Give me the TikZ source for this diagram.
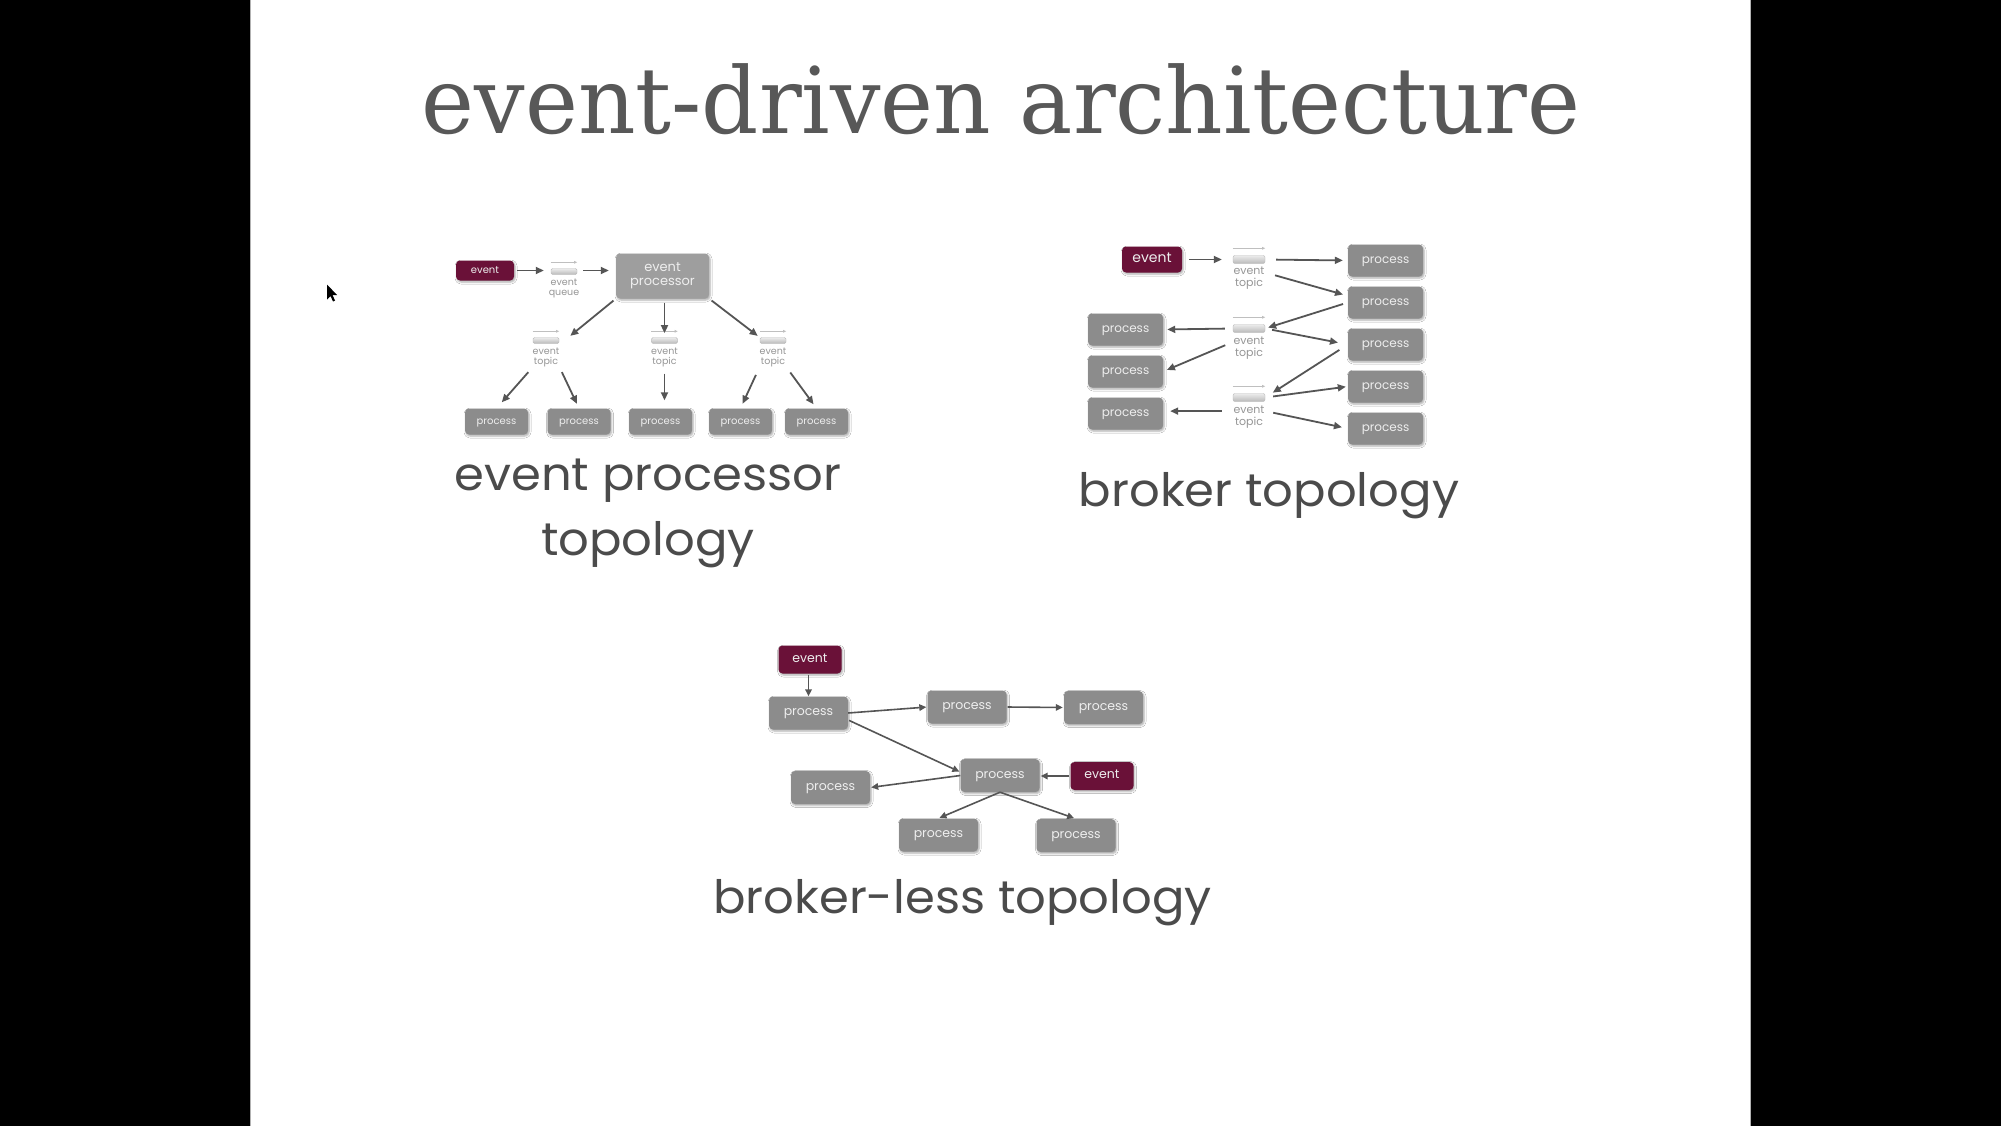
\documentclass[tikz,border=0pt]{standalone}
\usepackage{fontspec}
\setmainfont{Poppins}
\newfontfamily\titlefont{DejaVu Serif}
\usetikzlibrary{arrows.meta,fit,shadows.blur}

\definecolor{evred}{RGB}{106,17,56}
\definecolor{procgray}{RGB}{140,140,140}
\definecolor{epgray}{RGB}{158,158,158}
\definecolor{boxtext}{RGB}{238,238,238}
\definecolor{arrowgray}{RGB}{85,85,85}
\definecolor{inkgray}{RGB}{75,75,75}
\definecolor{titlegray}{RGB}{88,88,88}
\definecolor{captiongray}{RGB}{150,150,150}

\begin{document}
\begin{tikzpicture}[x=1pt,y=-1pt,
  box/.style={rounded corners=4pt, inner sep=0pt, text=boxtext, align=center,
    blur shadow={shadow xshift=1pt, shadow yshift=-1.5pt, shadow blur steps=4,
      shadow blur radius=2pt, shadow opacity=35}},
  % one-line box labels: centre the lowercase body in the box
  oneline/.style={text height=1ex, text depth=0pt},
  % event processor topology
  procA/.style={box, oneline, fill=procgray, minimum width=63pt, minimum height=26pt, font=\fontsize{10}{12}\selectfont},
  evA/.style={box, oneline, fill=evred, minimum width=58pt, minimum height=20pt, font=\fontsize{10}{12}\selectfont},
  epbox/.style={box, fill=epgray, minimum width=93pt, minimum height=45pt, font=\fontsize{13}{14}\selectfont},
  barA/.style={rounded corners=1.5pt, draw=gray!55, top color=gray!15, bottom color=gray!55,
    minimum width=26pt, minimum height=6pt, inner sep=0pt},
  capA/.style={text=captiongray, align=center, inner sep=0pt, font=\fontsize{9.5}{10.5}\selectfont},
  flowA/.style={draw=arrowgray, line width=1.8pt, -{Triangle[length=8pt,width=7pt]}},
  % broker topology
  procB/.style={box, oneline, fill=procgray, minimum width=75pt, minimum height=32pt, font=\fontsize{12}{14}\selectfont},
  evB/.style={box, oneline, fill=evred, minimum width=60pt, minimum height=26pt, font=\fontsize{14}{16}\selectfont},
  barB/.style={rounded corners=2pt, draw=gray!55, top color=gray!15, bottom color=gray!55,
    minimum width=32pt, minimum height=8pt, inner sep=0pt},
  capB/.style={text=captiongray, align=center, inner sep=0pt, font=\fontsize{11}{12}\selectfont},
  flowB/.style={draw=arrowgray, line width=1.8pt, -{Triangle[length=8pt,width=7pt]}},
  % broker-less topology
  procC/.style={box, oneline, fill=procgray, minimum width=79pt, minimum height=33pt, font=\fontsize{12.5}{15}\selectfont},
  evC/.style={box, oneline, fill=evred, minimum width=63pt, minimum height=28pt, font=\fontsize{12.5}{15}\selectfont},
  flowC/.style={draw=arrowgray, line width=1.6pt, -{Triangle[length=7pt,width=6.5pt]}},
  % shared
  tinyarrow/.style={draw=gray!50, line width=0.7pt, -{Triangle[length=3pt,width=2.6pt]}},
  topicfit/.style={inner sep=0pt},
  caption/.style={text=inkgray, align=center, inner sep=0pt, xscale=1.045, font=\fontsize{46}{65}\selectfont},
]

% frame: dark side bands and the white slide
\fill[black] (0,0) rectangle (2001,1125);
\fill[white] (250,0) rectangle (1750,1125);
\draw[gray!60, line width=1pt] (250,0) -- (250,1125) (1750,0) -- (1750,1125);
\useasboundingbox (0,0) rectangle (2001,1125);

% title
\node[anchor=base, text=titlegray, inner sep=0pt, xscale=0.972, font=\titlefont\fontsize{92}{100}\selectfont]
  (title) at (1001,133) {event-driven architecture};

% ---------------- event processor topology ----------------
\node[evA] (ev1) at (485,270) {event};
\node[barA] (q1b) at (564,271) {};
\node[capA] (q1l) at (564,288) {event\\queue};
\node[topicfit, fit=(q1b)(q1l)] (q1) {};
\node[epbox] (ep) at (662.5,275.5) {event\\processor};

\node[barA] (t1ab) at (546,340) {};
\node[capA] (t1al) at (546,357) {event\\topic};
\node[topicfit, fit=(t1ab)(t1al)] (t1a) {};
\node[barA] (t1bb) at (664.5,340) {};
\node[capA] (t1bl) at (664.5,357) {event\\topic};
\node[topicfit, fit=(t1bb)(t1bl)] (t1b) {};
\node[barA] (t1cb) at (773,340) {};
\node[capA] (t1cl) at (773,357) {event\\topic};
\node[topicfit, fit=(t1cb)(t1cl)] (t1c) {};

\node[procA] (p11) at (496.5,421) {process};
\node[procA] (p12) at (579,421) {process};
\node[procA] (p13) at (660.5,421) {process};
\node[procA] (p14) at (740.5,421) {process};
\node[procA] (p15) at (816.5,421) {process};

\foreach \b in {q1b,t1ab,t1bb,t1cb}
  \draw[tinyarrow] ([yshift=6pt]\b.north west) -- ([yshift=6pt]\b.north east);

\draw[flowA, shorten <=3pt, shorten >=7pt] (ev1.east) -- (ev1.east -| q1b.west);
\draw[flowA, shorten <=6pt, shorten >=7pt] (ev1.east -| q1b.east) -- (ev1.east -| ep.west);
\draw[flowA, shorten <=3pt, shorten >=2pt] (ep.south west) -- ([xshift=9pt]t1a.north east);
\draw[flowA, shorten <=4pt, shorten >=4pt] (ep.south -| t1b.north) -- (t1b.north);
\draw[flowA, shorten <=3pt, shorten >=2pt] (ep.south east) -- (t1c.north west);
\draw[flowA, shorten <=6pt, shorten >=8pt] (t1a.south west) -- (p11.north);
\draw[flowA, shorten <=5pt, shorten >=5pt] (t1a.south east) -- (p12.north);
\draw[flowA, shorten <=6pt, shorten >=8pt] (t1b.south) -- (t1b.south |- p13.north);
\draw[flowA, shorten <=8pt, shorten >=5pt] (t1c.south west) -- (p14.north);
\draw[flowA, shorten <=6pt, shorten >=5pt] (t1c.south east) -- (p15.north);

% base of a two-line node is the baseline of its last line
\node[caption, anchor=base] (cap1) at (648,555) {event processor\\topology};

% ---------------- broker topology ----------------
\node[evB] (ev2) at (1152,259) {event};

\node[barB] (t21b) at (1249,259) {};
\node[capB] (t21l) at (1249,278) {event\\topic};
\node[topicfit, fit=(t21b)(t21l)] (t21) {};
\node[barB] (t22b) at (1249,328) {};
\node[capB] (t22l) at (1249,348) {event\\topic};
\node[topicfit, fit=(t22b)(t22l)] (t22) {};
\node[barB] (t23b) at (1249,397) {};
\node[capB] (t23l) at (1249,417) {event\\topic};
\node[topicfit, fit=(t23b)(t23l)] (t23) {};

\foreach \b in {t21b,t22b,t23b}
  \draw[tinyarrow] ([yshift=7pt]\b.north west) -- ([yshift=7pt]\b.north east);

\node[procB] (r1) at (1385.5,260) {process};
\node[procB] (r2) at (1385.5,302) {process};
\node[procB] (r3) at (1385.5,344) {process};
\node[procB] (r4) at (1385.5,386) {process};
\node[procB] (r5) at (1385.5,428) {process};
\node[procB] (l1) at (1125.5,329) {process};
\node[procB] (l2) at (1125.5,371) {process};
\node[procB] (l3) at (1125.5,413) {process};

\draw[flowB, shorten <=7pt, shorten >=11pt] (ev2.east) -- (ev2.east -| t21b.west);
\draw[flowB, shorten <=11pt, shorten >=5pt] (t21b.east) -- (r1.west);
\draw[flowB, shorten <=10pt, shorten >=5pt] (t21.east) -- (r2.170);
\draw[flowB, shorten <=5pt, shorten >=3pt] (r2.west) -- (t22b.east);
\draw[flowB, shorten <=8pt, shorten >=4pt] (t22b.west) -- (l1.east);
\draw[flowB, shorten <=8pt, shorten >=4pt] (t22.west) -- (l2.east);
\draw[flowB, shorten <=7pt, shorten >=10pt] (t22b.east) -- (r3.west);
\draw[flowB, shorten <=10pt, shorten >=9pt] (r3.west) -- (t23b.east);
\draw[flowB, shorten <=11pt, shorten >=7pt] (t23.west) -- (t23.west -| l3.east);
\draw[flowB, shorten <=8pt, shorten >=2pt] (t23b.east) -- (r4.west);
\draw[flowB, shorten <=8pt, shorten >=6pt] (t23.east) -- (r5.west);

\node[caption, anchor=base] (cap2) at (1269,506) {broker topology};

% ---------------- broker-less topology ----------------
\node[evC] (eA) at (810,659) {event};
\node[procC] (pA) at (808.5,712.5) {process};
\node[procC] (pB) at (967,706.5) {process};
\node[procC] (pC) at (1103.5,707) {process};
\node[procC] (pD) at (1000,775) {process};
\node[evC] (eB) at (1102,775.5) {event};
\node[procC] (pE) at (830.5,787) {process};
\node[procC] (pF) at (938.5,834.5) {process};
\node[procC] (pG) at (1076,835) {process};

\draw[flowC, shorten <=1pt] (eA.south -| pA.north) -- (pA.north);
\draw[flowC, shorten >=1pt] (pA.east) -- (pB.west);
\draw[flowC, shorten <=1pt, shorten >=1pt] (pB.east) -- (pC.west);
\draw[flowC, shorten <=1pt, shorten >=1pt] (pA.-10) -- (pD.175);
\draw[flowC, shorten >=1pt] (pD.west) -- (pE.east);
\draw[flowC, shorten <=1pt, shorten >=1pt] (eB.west) -- (eB.west -| pD.east);
\draw[flowC, shorten >=1pt] (pD.south) -- (pF.north);
\draw[flowC, shorten >=2pt] (pD.south) -- (pG.north);

\node[caption, anchor=base] (cap3) at (962.5,913) {broker-less topology};

% mouse pointer
\fill[black] (327,284) -- (327,299) -- (330.5,295.5) -- (333,301) -- (335,300) -- (332.5,294.5) -- (337,294.5) -- cycle;
\end{tikzpicture}
\end{document}
